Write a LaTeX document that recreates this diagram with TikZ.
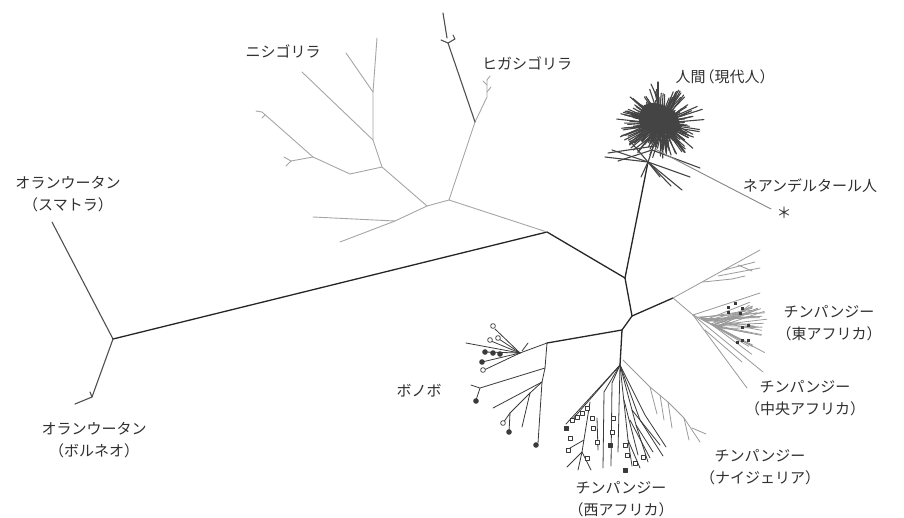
\documentclass[tikz,border=0pt]{standalone}
\usepackage{fontspec}
\newfontfamily\jp{Noto Sans CJK JP}
\definecolor{bk}{HTML}{262626}
\definecolor{dk}{HTML}{3A3A3A}
\definecolor{og}{HTML}{505050}
\definecolor{gr}{HTML}{A6A6A6}
\definecolor{cg}{HTML}{9A9A9A}
\definecolor{mg}{HTML}{858585}
\definecolor{hm}{HTML}{444444}
\definecolor{tx}{HTML}{303030}
\begin{document}
\begin{tikzpicture}[x=1pt,y=-1pt,line cap=round,line join=round]
\tikzset{
  mainln/.style={bk,line width=1.3pt},
  orang/.style={og,line width=1.1pt},
  gor/.style={gr,line width=0.9pt},
  egor/.style={og,line width=1.1pt},
  hum/.style={hm,line width=1.1pt},
  neo/.style={mg,line width=0.9pt},
  chg/.style={cg,line width=0.8pt},
  wch/.style={dk,line width=0.8pt},
  ocirc/.style={dk,fill=white,line width=0.7pt},
  fcirc/.style={dk,fill=dk,line width=0.7pt},
  osq/.style={dk,fill=white,line width=0.6pt},
  fsq/.style={dk,fill=dk,line width=0.6pt},
  lab/.style={text=tx,font=\jp\fontsize{15}{22.5}\selectfont,align=center,inner sep=0pt}
}
\useasboundingbox (0,0) rectangle (904,517);
\fill[white] (0,0) rectangle (904,517);

% ---------- backbone ----------
\coordinate (O) at (113,339);
\coordinate (OS) at (52,222);
\coordinate (OB) at (92,397);
\coordinate (OB2) at (75,404);
\coordinate (OBt) at (90,392);
\coordinate (X1) at (547,232);
\coordinate (G) at (449,200);
\coordinate (HC) at (625,278);
\coordinate (C) at (632,316);
\coordinate (P) at (622,330);
\coordinate (CE) at (673,298);
\coordinate (HB) at (648,162);
\coordinate (H0) at (661,123);

\draw[orang] (OS)--(O)--(OB)--(OB2);
\draw[orang] (OB)--(OBt);
\draw[mainln] (O)--(X1)--(HC)--(C)--(P);
\draw[mainln] (HC)--(HB);
\draw[mainln] (C)--(CE);
\draw[gor] (X1)--(G);

% ---------- gorillas ----------
\coordinate (W1) at (427,206);
\coordinate (W1L) at (395,221);
\coordinate (W2) at (382,167);
\coordinate (WA) at (350,174);
\coordinate (WB) at (313,157);
\coordinate (W3) at (373,140);
\coordinate (W5) at (373,92);
\coordinate (E1) at (475,122);
\coordinate (ET) at (448,43);
\coordinate (E2) at (487,97);

\draw[gor] (G)--(W1)--(W2)--(W3)--(W5)--(377,38);
\draw[gor] (W1)--(W1L)--(313,217);
\draw[gor] (W1L)--(340,242);
\draw[gor] (W2)--(WA)--(WB)--(262,112);
\draw[gor] (WB)--(291,161);
\draw[gor] (262,112)--(256,111);
\draw[gor] (265,115)--(262,118);
\draw[gor] (291,161)--(284,157);
\draw[gor] (291,161)--(286,166);
\draw[gor] (W3)--(302,72);
\draw[gor] (W5)--(346,53);
\draw[gor] (G)--(E1)--(E2)--(487,80);
\draw[gor] (487,92)--(491,87);
\draw[gor] (487,85)--(483,81);
\draw[gor] (487,80)--(490,76);
\draw[egor] (E1)--(ET);
\draw[egor] (443,13)--(447,38);
\draw[egor] (441,40)--(ET)--(455,39)--(453,35);

% ---------- humans ----------
\fill[hm] (H0) ++(-22,-4) .. controls ++(2,-13) and ++(-13,-4) .. ++(20,-15)
  .. controls ++(13,4) and ++(-4,-11) .. ++(20,17)
  .. controls ++(4,11) and ++(11,-2) .. ++(-15,13)
  .. controls ++(-11,2) and ++(-2,9) .. cycle;
\begin{scope}[shift={(H0)},xscale=1.25]
\pgfmathsetseed{7}
\foreach \i in {1,...,260}{
  \pgfmathsetmacro{\ha}{rnd*360}
  \pgfmathsetmacro{\hra}{rnd*14}
  \pgfmathsetmacro{\hrb}{12+rnd*24}
  \pgfmathsetmacro{\hdd}{(rnd-0.5)*30}
  \draw[hum] (\ha:\hra) -- ({\ha+\hdd}:\hrb);
}
\end{scope}
\draw[hum] (HB)--(605,157);
\draw[hum] (HB)--(612,150);
\draw[hum] (652,150)--(618,161);
\draw[hum] (655,146)--(608,153);
\draw[hum] (HB)--(630,141);
\draw[hum] (HB)--(682,190);
\draw[hum] (HB)--(690,177);
\draw[hum] (652,150)--(700,168);
\draw[hum] (HB)--(671,186);
\draw[hum] (HB)--(660,177);
\draw[hum] (HB)--(641,177);
\draw[hum] (HB)--(H0);
\draw[hum] (658,110)--(658,82);
\draw[hum] (656,95)--(651,84);
\draw[neo] (655,149)--(771,209);

% ---------- chimpanzees east / central ----------
\coordinate (D1) at (693,315);
\draw[chg] (CE)--(D1);
\draw[chg] (CE)--(760,250);
\draw[chg] (703,282)--(732,279);
\draw[chg] (718,276)--(760,268);
\draw[chg] (724,270)--(755,262);
\draw[chg] (738,265)--(752,271);
\draw[chg] (732,279)--(745,276);
\draw[chg] (D1)--(760,293);
\draw[chg] (D1)--(722,330);
\pgfmathsetseed{11}
\foreach \i in {1,...,30}{
  \pgfmathsetmacro{\ft}{rnd}
  \pgfmathsetmacro{\fxs}{698+\ft*24}
  \pgfmathsetmacro{\fys}{317+\ft*13}
  \pgfmathsetmacro{\fxe}{748+rnd*20}
  \pgfmathsetmacro{\fye}{298+rnd*60}
  \draw[chg] (\fxs,\fys)--(\fxe,\fye);
}
\draw[chg] (D1)--(763,372);
\draw[chg] (D1)--(747,388);
\draw[chg] (705,330)--(742,362);
\foreach \p in {(728,307),(735,303),(742,308),(740,313),(728,312),(742,327),(748,325),(737,342),(742,340),(748,340)}
  \fill[dk] \p ++(-1.5,-1.5) rectangle ++(3,3);

% ---------- Nigeria ----------
\coordinate (N0) at (623,360);
\draw[chg] (N0)--(650,387)--(668,402)--(684,418)--(700,442);
\draw[chg] (650,387)--(657,414);
\draw[chg] (668,402)--(672,428);
\draw[chg] (684,418)--(689,440);
\draw[chg] (692,428)--(706,434);
\draw[chg] (660,395)--(664,420);

% ---------- west chimpanzees ----------
\coordinate (Q) at (620,365);
\draw[mainln] (P)--(Q);
\draw[wch] (Q)--(566,424);
\draw[wch] (Q)--(571,421);
\draw[wch] (Q)--(604,392)--(603,468);
\draw[wch] (Q)--(612,383)--(611,466);
\draw[wch] (Q)--(618,452);
\draw[wch] (Q)--(628,440)--(640,468);
\draw[wch] (628,440)--(632,466);
\draw[wch] (Q)--(636,425)--(653,452);
\draw[wch] (636,425)--(648,462);
\draw[wch] (Q)--(640,420)--(663,456);
\draw[wch] (Q)--(645,415)--(666,447);
\draw[wch] (632,410)--(660,445);
\draw[wch] (630,420)--(650,458);
\draw[wch] (624,400)--(638,455);
\draw[wch] (590,402)--(582,452)--(567,467);
\draw[wch] (582,452)--(578,470);
\draw[wch] (582,452)--(591,470);
\draw[wch] (584,440)--(570,448);
\draw[wch] (597,418)--(598,450);
\foreach \p in {(572,420),(577,417),(582,413),(587,408),(570,438),(568,450),(592,418),(593,428),(597,442),(587,458),(612,432),(613,418),(625,445),(627,455),(635,463),(643,457)}
  \draw[osq] \p ++(-2,-2) rectangle ++(4,4);
\foreach \p in {(566,428),(610,445),(625,470)}
  \draw[fsq] \p ++(-2,-2) rectangle ++(4,4);

% ---------- bonobo ----------
\coordinate (B0) at (547,343);
\coordinate (B1) at (520,353);
\coordinate (B2) at (545,368);
\coordinate (B3) at (542,382);
\coordinate (B4) at (530,393);
\draw[mainln] (P)--(B0);
\draw[wch] (B0)--(B1);
\draw[wch] (522,351)--(528,343);
\draw[wch] (B1)--(466,343);
\draw[wch] (B1)--(495,329);
\draw[wch] (B1)--(491,341);
\draw[wch] (B1)--(499,339);
\draw[wch] (B1)--(485,352);
\draw[wch] (B1)--(482,362);
\draw[wch] (B1)--(484,370);
\draw[wch] (B0)--(B2)--(B3)--(538,443);
\draw[wch] (B2)--(480,388)--(471,385);
\draw[wch] (480,388)--(476,400);
\draw[wch] (B3)--(493,408);
\draw[wch] (B3)--(B4)--(522,427);
\draw[wch] (B4)--(510,413)--(509,432);
\draw[wch] (510,413)--(503,423);
\foreach \p in {(493,326),(490,340),(498,338),(483,370),(503,423)}
  \draw[ocirc] \p circle[radius=2.4];
\foreach \p in {(485,352),(493,353),(500,354),(482,362),(476,401),(509,432),(536,445)}
  \draw[fcirc] \p circle[radius=2.4];

% ---------- labels ----------
\node[lab] (lOS) at (68,194) {オランウータン\\（スマトラ）};
\node[lab] (lOB) at (94,440) {オランウータン\\（ボルネオ）};
\node[lab] (lWG) at (283,51) {ニシゴリラ};
\node[lab] (lEG) at (527,63) {ヒガシゴリラ};
\node[lab] (lH) at (722,77) {人間\kern-0.4em（現代人）\kern-0.4em};
\node[lab] (lN) at (810,186) {ネアンデルタール人};
\node[lab] (ast) at (784,213) {＊};
\node[lab] (lCE) at (829,323) {チンパンジー\\（東アフリカ）};
\node[lab] (lCC) at (805,398) {チンパンジー\\（中央アフリカ）};
\node[lab] (lCN) at (760,467) {チンパンジー\\（ナイジェリア）};
\node[lab] (lCW) at (621,499) {チンパンジー\\（西アフリカ）};
\node[lab] (lBo) at (419,391) {ボノボ};
\end{tikzpicture}
\end{document}
